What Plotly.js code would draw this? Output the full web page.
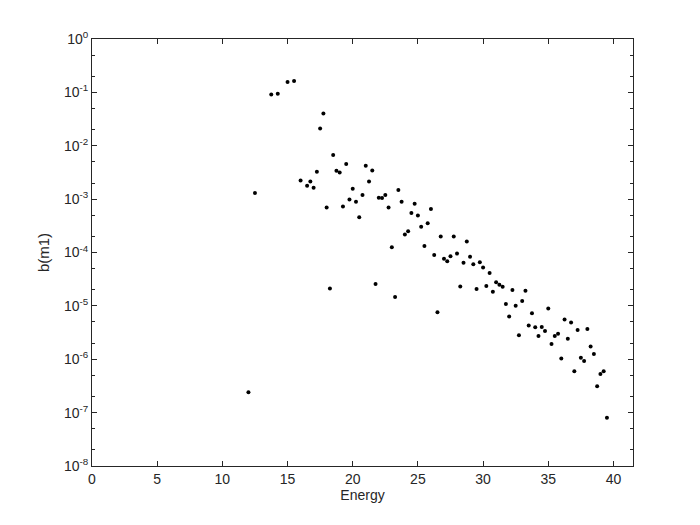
<!DOCTYPE html>
<html>
<head>
<meta charset="utf-8">
<script src="https://cdn.plot.ly/plotly-3.0.1.min.js"></script>
<style>
  html, body { margin: 0; padding: 0; background: #fff; }
  #plot { width: 700px; height: 525px; }
</style>
</head>
<body>
<div id="plot"></div>
<script>
// energy values (x) and b(m1) values (y)
var energy = [12, 12.5, 13.75, 14.25, 15, 15.5,
  16, 16.5, 16.75, 17, 17.25, 17.5, 17.75, 18, 18.25, 18.5, 18.75, 19,
  19.25, 19.5, 19.75, 20, 20.25, 20.5, 20.75, 21, 21.25, 21.5, 21.75, 22,
  22.25, 22.5, 22.75, 23, 23.25, 23.5, 23.75, 24, 24.25, 24.5, 24.75, 25,
  25.25, 25.5, 25.75, 26, 26.25, 26.5, 26.75, 27, 27.25, 27.5, 27.75, 28,
  28.25, 28.5, 28.75, 29, 29.25, 29.5, 29.75, 30, 30.25, 30.5, 30.75, 31,
  31.25, 31.5, 31.75, 32, 32.25, 32.5, 32.75, 33, 33.25, 33.5, 33.75, 34,
  34.25, 34.5, 34.75, 35, 35.25, 35.5, 35.75, 36, 36.25, 36.5, 36.75, 37,
  37.25, 37.5, 37.75, 38, 38.25, 38.5, 38.75, 39, 39.25, 39.5];

var bm1 = [2.41e-7, 1.30e-3, 0.0915, 0.0942, 0.156, 0.163,
  2.23e-3, 1.78e-3, 2.14e-3, 1.63e-3, 3.25e-3, 0.0211, 0.0403, 6.97e-4, 2.11e-5, 6.69e-3, 3.40e-3, 3.16e-3,
  7.28e-4, 4.54e-3, 9.84e-4, 1.56e-3, 8.91e-4, 4.60e-4, 1.19e-3, 4.21e-3, 2.14e-3, 3.44e-3, 2.58e-5, 1.06e-3,
  1.05e-3, 1.19e-3, 6.97e-4, 1.26e-4, 1.46e-5, 1.48e-3, 8.91e-4, 2.17e-4, 2.49e-4, 5.49e-4, 8.17e-4, 4.93e-4,
  3.05e-4, 1.33e-4, 3.52e-4, 6.53e-4, 8.93e-5, 7.62e-6, 1.99e-4, 7.60e-5, 6.88e-5, 8.55e-5, 1.99e-4, 9.57e-5,
  2.30e-5, 6.40e-5, 1.60e-4, 8.29e-5, 6.05e-5, 2.06e-5, 6.59e-5, 5.23e-5, 2.35e-5, 4.12e-5, 1.83e-5, 2.78e-5,
  2.48e-5, 2.27e-5, 1.08e-5, 6.30e-6, 1.98e-5, 1.01e-5, 2.82e-6, 1.24e-5, 1.91e-5, 4.27e-6, 7.30e-6, 3.99e-6,
  2.74e-6, 4.04e-6, 3.40e-6, 8.90e-6, 1.94e-6, 2.74e-6, 2.99e-6, 1.03e-6, 5.53e-6, 2.41e-6, 4.86e-6, 5.97e-7,
  3.55e-6, 1.07e-6, 9.31e-7, 3.70e-6, 1.73e-6, 1.26e-6, 3.12e-7, 5.31e-7, 5.97e-7, 8.05e-8];

var xTicks = [0, 5, 10, 15, 20, 25, 30, 35, 40];
var yTicks = [1, 1e-1, 1e-2, 1e-3, 1e-4, 1e-5, 1e-6, 1e-7, 1e-8];
var yTickText = ['10<sup>0</sup>', '10<sup>-1</sup>', '10<sup>-2</sup>', '10<sup>-3</sup>',
  '10<sup>-4</sup>', '10<sup>-5</sup>', '10<sup>-6</sup>', '10<sup>-7</sup>', '10<sup>-8</sup>'];

var trace = {
  x: energy,
  y: bm1,
  mode: 'markers',
  type: 'scatter',
  marker: {color: '#000', size: 4},
  hoverinfo: 'x+y'
};

var axisColor = '#262626';
var layout = {
  width: 700,
  height: 525,
  paper_bgcolor: '#fff',
  plot_bgcolor: '#fff',
  showlegend: false,
  margin: {l: 92, r: 67, t: 39, b: 59},
  font: {family: 'Liberation Sans, Arial, sans-serif', size: 14, color: axisColor},
  xaxis: {
    range: [0, 41.5],
    tickvals: xTicks,
    ticks: 'inside',
    ticklen: 5,
    tickcolor: axisColor,
    showline: true,
    linecolor: axisColor,
    linewidth: 1,
    mirror: 'ticks',
    showgrid: false,
    zeroline: false,
    title: {text: 'Energy', font: {size: 14}, standoff: 2}
  },
  yaxis: {
    type: 'log',
    range: [-8, 0],
    tickvals: yTicks,
    ticktext: yTickText,
    ticks: 'inside',
    ticklen: 5,
    tickcolor: axisColor,
    minor: {ticks: 'inside', ticklen: 3, tickcolor: axisColor, showgrid: false},
    showline: true,
    linecolor: axisColor,
    linewidth: 1,
    mirror: 'ticks',
    showgrid: false,
    zeroline: false,
    title: {text: 'b(m1)', font: {size: 15}, standoff: 10}
  }
};

Plotly.newPlot('plot', [trace], layout, {displayModeBar: false, staticPlot: true});
</script>
</body>
</html>
